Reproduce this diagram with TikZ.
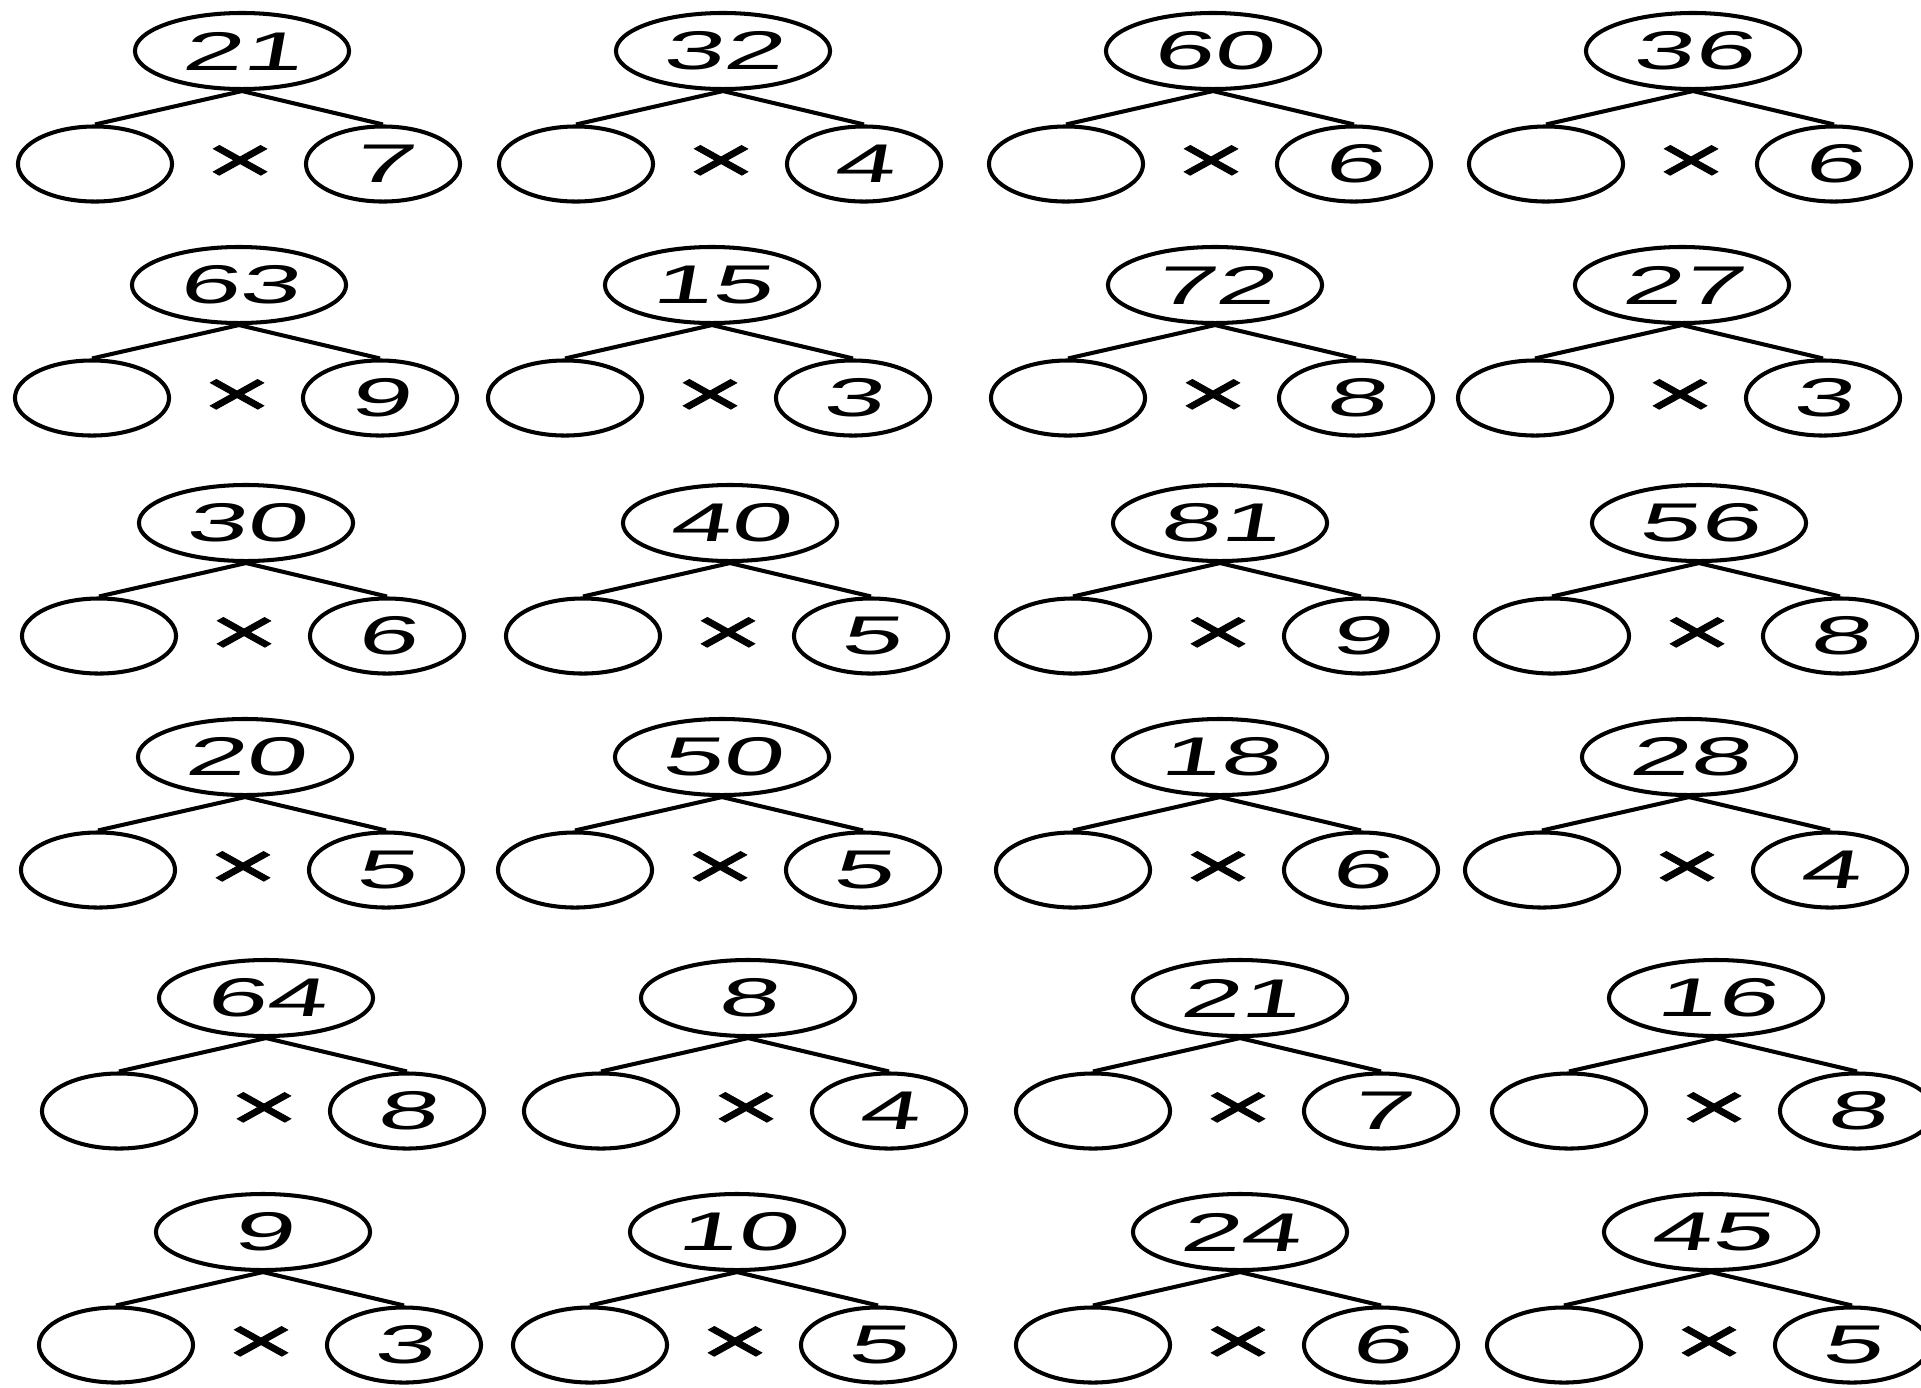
\documentclass[tikz,border=0pt]{standalone}
\usepackage{fontspec}
\usetikzlibrary{shapes.geometric}
\newfontfamily\numfont[FakeStretch=2.0,FakeSlant=0.18]{Liberation Sans}
\newfontfamily\mulfont[FakeStretch=1.8,FakeBold=1.2]{Liberation Sans}

\begin{document}
\begin{tikzpicture}[x=0.01cm,y=-0.01cm,
  prod/.style={ellipse,draw,line width=1.15pt,inner sep=0pt,minimum width=2.14cm,minimum height=0.76cm,font=\numfont\fontsize{15.5}{17}\selectfont},
  fac/.style={prod,minimum width=1.54cm,minimum height=0.75cm},
  mul/.style={inner sep=0pt,font=\mulfont\fontsize{19}{21}\selectfont},
  ln/.style={line width=1.15pt}
]
  \useasboundingbox (0,0) rectangle (1921,1387);
  % one tree per entry: name / x / y / product / given factor
  \foreach \n/\x/\y/\p/\f in {
    11/242/51/21/7, 12/723/51/32/4, 13/1213/51/60/6, 14/1693/51/36/6,
    21/239/285/63/9, 22/712/285/15/3, 23/1215/285/72/8, 24/1682/285/27/3,
    31/246/523/30/6, 32/730/523/40/5, 33/1220/523/81/9, 34/1699/523/56/8,
    41/245/757/20/5, 42/722/757/50/5, 43/1220/757/18/6, 44/1689/757/28/4,
    51/266/998/64/8, 52/748/998/8/4, 53/1240/998/21/7, 54/1716/998/16/8,
    61/263/1232/9/3, 62/737/1232/10/5, 63/1240/1232/24/6, 64/1711/1232/45/5}{
    \node[prod] (p\n) at (\x,\y) {\p};
    \node[fac] (a\n) at (\x-147,\y+113) {};
    \node[fac] (b\n) at (\x+141,\y+113) {\f};
    \node[mul] (m\n) at (\x-2,\y+113) {×};
    \draw[ln] (p\n.south) -- (a\n.north);
    \draw[ln] (p\n.south) -- (b\n.north);
  }
\end{tikzpicture}
\end{document}
